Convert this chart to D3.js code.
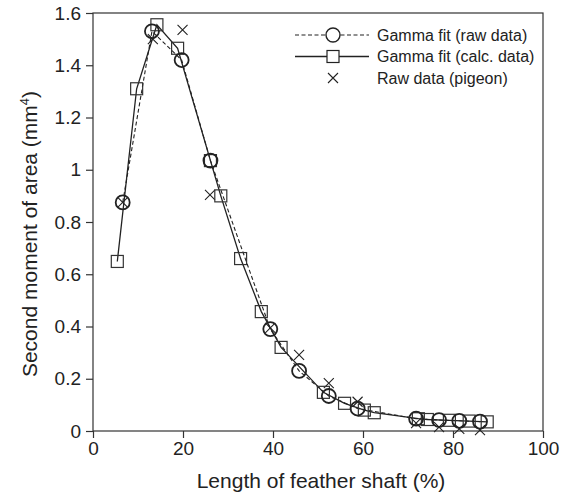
<!DOCTYPE html>
<html>
<head>
<meta charset="utf-8">
<script src="https://cdn.jsdelivr.net/npm/d3@7"></script>
<style>
  body { margin: 0; background: #fff; }
  svg text { font-family: "Liberation Sans", Arial, sans-serif; fill: #222; }
</style>
</head>
<body>
<svg id="chart" width="562" height="499"></svg>
<script>
// gamma fit on raw data (circles, dashed)
const rawFitX = [6.6, 13.1, 19.7, 26.1, 39.4, 45.8, 52.4, 58.8, 71.8, 76.9, 81.4, 86.0];
const rawFitY = [0.875, 1.53, 1.42, 1.035, 0.39, 0.23, 0.134, 0.086, 0.047, 0.042, 0.039, 0.036];

// gamma fit on calculated data (squares, solid)
const calcFitX = [5.4, 9.7, 14.2, 18.8, 26.1, 28.4, 32.8, 37.4, 41.8, 51.2, 55.9, 60.3, 62.5, 72.3, 74.3, 79.2, 83.6, 87.6];
const calcFitY = [0.649, 1.31, 1.555, 1.465, 1.035, 0.90, 0.66, 0.457, 0.32, 0.148, 0.106, 0.08, 0.07, 0.047, 0.044, 0.041, 0.038, 0.035];

// raw pigeon data (crosses)
const pigeonX = [6.6, 13.3, 19.9, 26.0, 39.4, 45.8, 52.4, 58.8, 71.8, 76.9, 81.4, 86.0];
const pigeonY = [0.875, 1.50, 1.535, 0.904, 0.395, 0.291, 0.183, 0.112, 0.03, 0.015, 0.008, 0.003];

const xTicks = [0, 20, 40, 60, 80, 100];
const yTicks = [0, 0.2, 0.4, 0.6, 0.8, 1, 1.2, 1.4, 1.6];

const svg = d3.select('#chart');
const margin = {left: 93, right: 19, top: 13, bottom: 68};
const W = 562 - margin.left - margin.right;
const H = 499 - margin.top - margin.bottom;

const g = svg.append('g').attr('transform', `translate(${margin.left},${margin.top})`);

const x = d3.scaleLinear().domain([0, 100]).range([0, W]);
const y = d3.scaleLinear().domain([0, 1.6]).range([H, 0]);

// frame
g.append('rect')
  .attr('width', W).attr('height', H)
  .attr('fill', 'none').attr('stroke', '#333').attr('stroke-width', 1.2);

const xAxis = g.append('g').attr('transform', `translate(0,${H})`)
  .call(d3.axisBottom(x).tickValues(xTicks).tickSize(7).tickPadding(4).tickFormat(d3.format('')));
const yAxis = g.append('g')
  .call(d3.axisLeft(y).tickValues(yTicks).tickSize(7).tickPadding(5).tickFormat(d3.format('')));

[xAxis, yAxis].forEach(a => {
  a.select('.domain').remove();
  a.selectAll('line').attr('stroke', '#333').attr('stroke-width', 1.2);
  a.selectAll('text').style('font-size', '19px').attr('fill', '#222');
});

// axis titles
g.append('text')
  .attr('x', W / 2 + 3).attr('y', H + 57)
  .attr('text-anchor', 'middle')
  .style('font-size', '21px')
  .text('Length of feather shaft (%)');

const yl = g.append('text')
  .attr('transform', `translate(${-56},${H / 2 + 12}) rotate(-90)`)
  .attr('text-anchor', 'middle')
  .style('font-size', '21px');
yl.append('tspan').text('Second moment of area (mm');
yl.append('tspan').text('4').style('font-size', '13px').attr('dy', -8);
yl.append('tspan').text(')').attr('dy', 8);

const rawFit = rawFitX.map((d, i) => ({x: d, y: rawFitY[i]}));
const calcFit = calcFitX.map((d, i) => ({x: d, y: calcFitY[i]}));
const pigeon = pigeonX.map((d, i) => ({x: d, y: pigeonY[i]}));

const line = d3.line().x(d => x(d.x)).y(d => y(d.y));

g.append('path').datum(calcFit)
  .attr('d', line).attr('fill', 'none')
  .attr('stroke', '#222').attr('stroke-width', 1.3);

g.append('path').datum(rawFit)
  .attr('d', line).attr('fill', 'none')
  .attr('stroke', '#222').attr('stroke-width', 1.1)
  .attr('stroke-dasharray', '4,2.5');

const crossPath = s => `M${-s},${-s}L${s},${s}M${-s},${s}L${s},${-s}`;

// crosses
g.selectAll('.cross').data(pigeon).enter().append('path')
  .attr('class', 'cross')
  .attr('transform', d => `translate(${x(d.x)},${y(d.y)})`)
  .attr('d', crossPath(5))
  .attr('stroke', '#222').attr('stroke-width', 1.1).attr('fill', 'none');

// squares
g.selectAll('.sq').data(calcFit).enter().append('rect')
  .attr('class', 'sq')
  .attr('x', d => x(d.x) - 6).attr('y', d => y(d.y) - 6)
  .attr('width', 12).attr('height', 12)
  .attr('fill', 'none').attr('stroke', '#333').attr('stroke-width', 1.2);

// circles
g.selectAll('.circ').data(rawFit).enter().append('circle')
  .attr('class', 'circ')
  .attr('cx', d => x(d.x)).attr('cy', d => y(d.y))
  .attr('r', 7)
  .attr('fill', 'none').attr('stroke', '#222').attr('stroke-width', 1.8);

// legend
const legendItems = [
  {label: 'Gamma fit (raw data)', kind: 'circle'},
  {label: 'Gamma fit (calc. data)', kind: 'square'},
  {label: 'Raw data (pigeon)', kind: 'cross'}
];
const lg = g.append('g').attr('transform', `translate(${295 - margin.left},${35 - margin.top})`);
legendItems.forEach((it, i) => {
  const row = lg.append('g').attr('transform', `translate(0,${i * 21.5})`);
  if (it.kind === 'circle') {
    row.append('line').attr('x1', 0).attr('x2', 74).attr('stroke', '#222')
      .attr('stroke-width', 1.1).attr('stroke-dasharray', '4,2.5');
    row.append('circle').attr('cx', 38).attr('r', 7).attr('fill', '#fff')
      .attr('stroke', '#222').attr('stroke-width', 1.4);
  } else if (it.kind === 'square') {
    row.append('line').attr('x1', 0).attr('x2', 74).attr('stroke', '#222').attr('stroke-width', 1.3);
    row.append('rect').attr('x', 32).attr('y', -6).attr('width', 12).attr('height', 12)
      .attr('fill', '#fff').attr('stroke', '#222').attr('stroke-width', 1.2);
  } else {
    row.append('path').attr('transform', 'translate(38,0)').attr('d', crossPath(5))
      .attr('stroke', '#222').attr('stroke-width', 1.1);
  }
  row.append('text').attr('x', 82).attr('dy', '0.35em')
    .style('font-size', '16px').text(it.label);
});
</script>
</body>
</html>
